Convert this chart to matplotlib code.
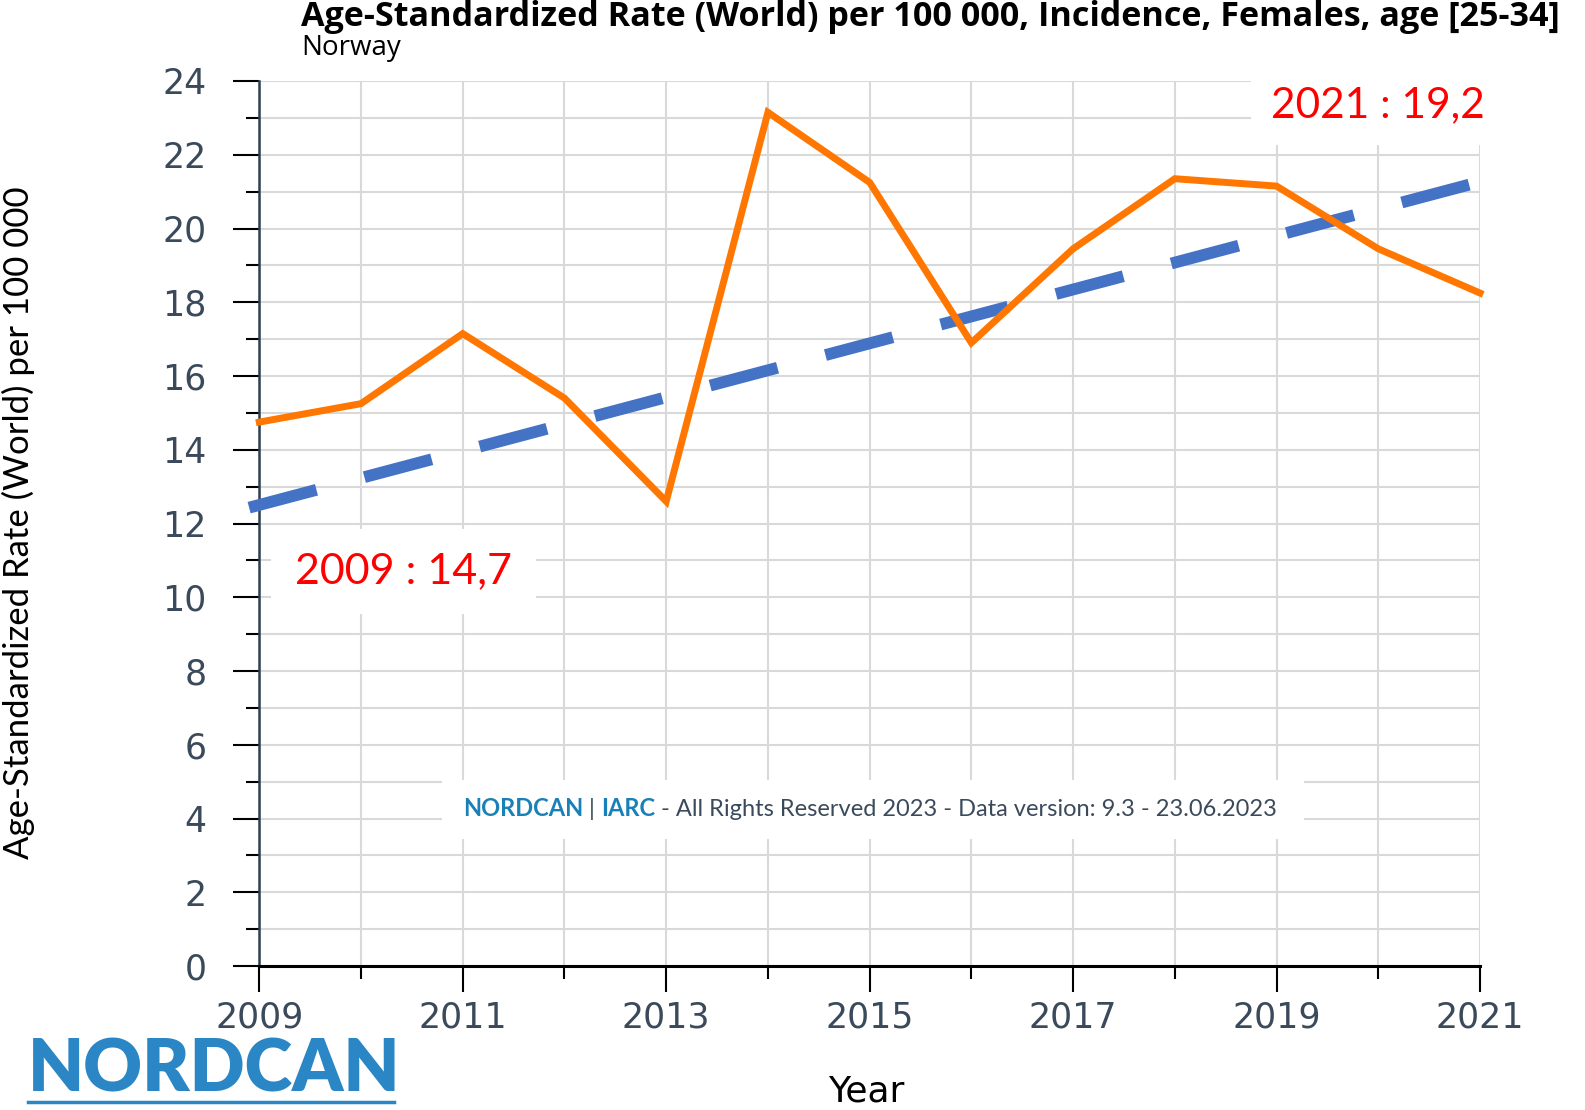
import matplotlib
matplotlib.use("Agg")
import matplotlib.pyplot as plt
from matplotlib.lines import Line2D
from matplotlib.patches import Rectangle
from matplotlib.ticker import MultipleLocator

# data
years = [2009, 2010, 2011, 2012, 2013, 2014, 2015, 2016, 2017, 2018, 2019, 2020, 2021]
rates = [14.75, 15.25, 17.15, 15.4, 12.6, 23.15, 21.25, 16.9, 19.45, 21.35, 21.15, 19.45, 18.25]
trend_years = [2008.9, 2021.25]
trend_rates = [12.43, 21.45]
label_years = [2009, 2011, 2013, 2015, 2017, 2019, 2021]

title = "Age-Standardized Rate (World) per 100 000, Incidence, Females, age [25-34]"
subtitle = "Norway"
ylabel = "Age-Standardized Rate (World) per 100 000"
note_start = "2009 : 14,7"
note_end = "2021 : 19,2"

W, H = 1585, 1110
fig = plt.figure(figsize=(W / 100, H / 100), dpi=100)
ax = fig.add_axes([259.3 / W, 1 - 966 / H, (1480 - 259.3) / W, (966 - 81) / H])

tick_col = "#3b4a5b"
ax.set_xlim(2009, 2021)
ax.set_ylim(0, 24)
ax.set_xticks(label_years)
ax.set_xticks(years, minor=True)
ax.yaxis.set_major_locator(MultipleLocator(2))
ax.yaxis.set_minor_locator(MultipleLocator(1))
ax.set_axisbelow(True)
ax.grid(which="both", color="#d9d9d9", lw=1.5)

ax.tick_params(axis="y", which="major", length=19, width=1.5, pad=19,
               labelsize=25, labelcolor=tick_col)
ax.tick_params(axis="y", which="minor", length=9.5, width=1.5)
ax.tick_params(axis="x", which="major", length=19, width=1.5, pad=6,
               labelsize=25, labelcolor=tick_col)
ax.tick_params(axis="x", which="minor", length=9.5, width=1.5)

for s in ["top", "right"]:
    ax.spines[s].set_visible(False)
ax.spines["left"].set_color("#2d3e50")
ax.spines["left"].set_linewidth(1.8)
ax.spines["bottom"].set_color("black")
ax.spines["bottom"].set_linewidth(2.2)

ax.plot(years, rates, color="#ff7700", lw=5, solid_joinstyle="miter", zorder=4, clip_on=False)
ax.plot(trend_years, trend_rates, color="#4472c4", lw=8.5, ls=(0, (5.9, 4.2)),
        dash_capstyle="butt", zorder=3, clip_on=False)

# red notes in white boxes
ax.text(2009.35, 10.7, note_start, color="red", fontsize=31, family="Lato",
        ha="left", va="center", zorder=5,
        bbox=dict(facecolor="white", edgecolor="none", pad=17))
ax.text(2018.95, 23.35, note_end, color="red", fontsize=30.5, family="Lato",
        ha="left", va="center", zorder=5, clip_on=False,
        bbox=dict(facecolor="white", edgecolor="none", pad=15))

# watermark
ax.add_patch(Rectangle((442 / W, 1 - 839 / H), 862 / W, 59 / H, transform=fig.transFigure,
                       facecolor="white", edgecolor="none", zorder=1, clip_on=False))
wm = dict(fontsize=17, family="Lato", annotation_clip=False, va="bottom", ha="left", zorder=5)
t1 = ax.text(463 / W, 1 - 809 / H, "NORDCAN", transform=fig.transFigure, color="#1a80b8",
             fontsize=17, weight="bold", family="Lato", va="center", zorder=5)
t2 = ax.annotate(" | ", xy=(1, 0), xycoords=t1, color="#3b4a5b", **wm)
t3 = ax.annotate("IARC", xy=(1, 0), xycoords=t2, color="#1a80b8", weight="bold", **wm)
ax.annotate(" - All Rights Reserved 2023 - Data version: 9.3 - 23.06.2023", xy=(1, 0),
            xycoords=t3, color="#3b4a5b", **wm)

# titles and labels
fig.text(301 / W, 1 - 17 / H, title, fontsize=24.6, weight="bold", family="Open Sans",
         ha="left", va="center")
fig.text(301 / W, 1 - 48 / H, subtitle, fontsize=20, family="Open Sans", ha="left", va="center")
fig.text(18 / W, 1 - 523 / H, ylabel, rotation=90, fontsize=25,
         family="Lato", ha="center", va="center")
fig.text(866 / W, 1 - 1092 / H, "Year", fontsize=26, family="DejaVu Sans",
         ha="center", va="center")

# logo
fig.text(28 / W, 1 - 1092 / H, "NORDCAN", fontsize=52, weight="heavy", family="Lato",
         color="#2a86c4", ha="left", va="baseline")
fig.lines.append(Line2D([28 / W, 394 / W], [1 - 1102 / H, 1 - 1102 / H], transform=fig.transFigure,
                        color="#2a86c4", lw=2.5))

fig.savefig("out.png", dpi=100)
